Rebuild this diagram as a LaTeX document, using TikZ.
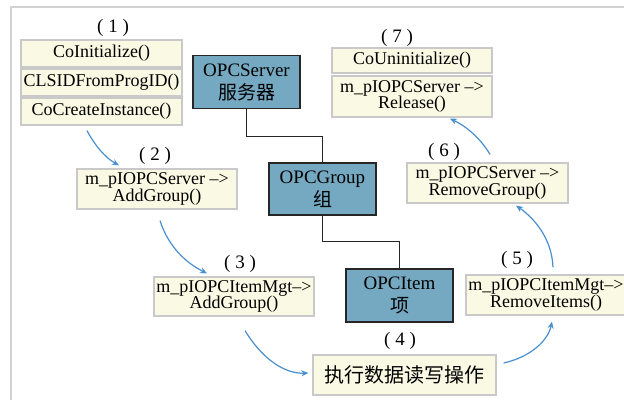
\documentclass[tikz,border=0pt]{standalone}
\usepackage{fontspec}
\setmainfont{Liberation Serif}
\newfontfamily\cjk{Noto Sans CJK SC}
\usetikzlibrary{calc,arrows.meta}
\definecolor{boxfill}{HTML}{FAFAE4}
\definecolor{boxline}{HTML}{C9C9C9}
\definecolor{objfill}{HTML}{74A9C1}
\definecolor{flowblue}{HTML}{4A8FD0}
\definecolor{framegray}{HTML}{D2D2D2}

\begin{document}
\begin{tikzpicture}[x=1pt,y=-1pt,
  callbox/.style n args={2}{draw=boxline, line width=1.2pt, fill=boxfill,
    minimum width=#1, minimum height=#2, inner sep=0pt, align=center,
    font=\fontsize{18}{16.5}\selectfont},
  objbox/.style={draw=black!85, line width=1.2pt, fill=objfill,
    minimum width=107, minimum height=53, inner sep=0pt, align=center,
    font=\fontsize{19}{23}\selectfont},
  steplabel/.style={inner sep=0pt, font=\fontsize{19}{19}\selectfont},
  tree/.style={draw=black!85, line width=1.2pt},
  flow/.style={draw=flowblue, line width=1.2pt,
    -{Stealth[length=7pt,width=6pt]}}]

% canvas and frame
\useasboundingbox (0,0) rectangle (624,400);
\fill[white] (0,0) rectangle (624,400);
\draw[framegray, line width=1.5pt] (11,400) -- (11,7) -- (624,7);

% OPC object hierarchy
\node[objbox] (server) at (246.5,82) {OPCServer\\{\cjk 服务器}};
\node[objbox, minimum height=52] (group) at (322.5,189) {OPCGroup\\{\cjk 组}};
\node[objbox] (item) at (399.5,295.5) {OPCItem\\{\cjk 项}};

\draw[tree] (server.south) -- ++(0,27) -| (group.north);
\draw[tree] (group.south) -- ++(0,26) -| (item.north);

% step (1)
\node[steplabel] (l1) at (113,28) {( 1 )};
\node[callbox={161}{27}] (s1a) at (101.5,53.5) {CoInitialize()};
\node[callbox={161}{27}] (s1b) at (101.5,82.5) {CLSIDFromProgID()};
\node[callbox={161}{27}] (s1c) at (101.5,111.5) {CoCreateInstance()};

% step (2)
\node[steplabel] (l2) at (155,156) {( 2 )};
\node[callbox={160}{40}] (s2) at (157,189) {m\_pIOPCServer \textendash>\\AddGroup()};

% step (3)
\node[steplabel] (l3) at (240,264) {( 3 )};
\node[callbox={160}{39}] (s3) at (234,296.5) {m\_pIOPCItemMgt\textendash>\\AddGroup()};

% step (4)
\node[steplabel] (l4) at (400,341) {( 4 )};
\node[callbox={183}{40}, font=\fontsize{20}{20}\cjk] (s4) at (404.5,375) {执行数据读写操作};

% step (5)
\node[steplabel] (l5) at (517,260) {( 5 )};
\node[callbox={160}{40}] (s5) at (546,295) {m\_pIOPCItemMgt\textendash>\\RemoveItems()};

% step (6)
\node[steplabel] (l6) at (444,152) {( 6 )};
\node[callbox={161}{40}] (s6) at (487.5,183) {m\_pIOPCServer \textendash>\\RemoveGroup()};

% step (7)
\node[steplabel] (l7) at (397,38) {( 7 )};
\node[callbox={160}{25}] (s7a) at (412,60.5) {CoUninitialize()};
\node[callbox={160}{41}] (s7b) at (412,96.5) {m\_pIOPCServer \textendash>\\Release()};

% call sequence
\draw[flow] ($(s1c.south)+(-14.5,5)$) .. controls +(8,15) and +(-14,-8) .. ($(s2.north)+(-38,-3)$);
\draw[flow] ($(s2.south)+(3,11)$) .. controls +(8,25) and +(-22,-11) .. ($(s3.north)+(-27,-3)$);
\draw[flow] ($(s3.south)+(11,14)$) .. controls +(17,28) and +(-24,1) .. ($(s4.west)+(-4,-2)$);
\draw[flow] ($(s4.east)+(7,-12)$) .. controls +(27,-6) and +(-4,19) .. ($(s5.south)+(6,6)$);
\draw[flow] ($(s5.north)+(7,-7)$) .. controls +(-1,-28) and +(19,13) .. ($(s6.south)+(28.5,2)$);
\draw[flow] ($(s6.north)+(2.5,-8)$) .. controls +(-10,-17) and +(15,7) .. ($(s7b.south)+(38,1)$);
\end{tikzpicture}
\end{document}
